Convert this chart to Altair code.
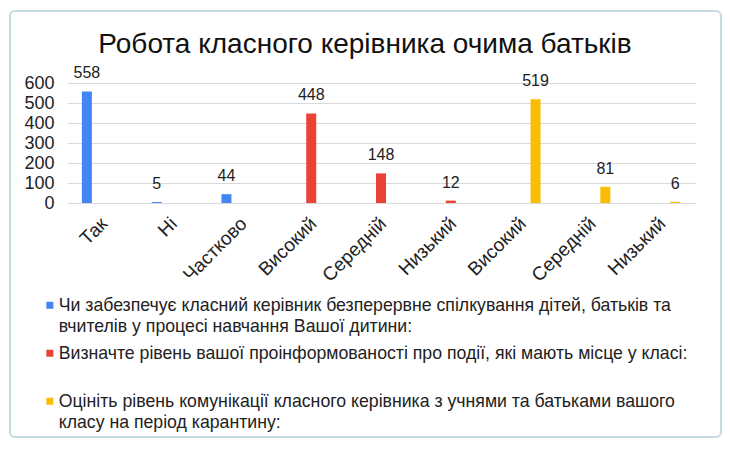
import json
import altair as alt
import pandas as pd

# ---------------- data ----------------
categories = ["Так", "Ні", "Частково", "Високий", "Середній", "Низький",
              "Високий", "Середній", "Низький"]
values = [558, 5, 44, 448, 148, 12, 519, 81, 6]
series_of_bar = [0, 0, 0, 1, 1, 1, 2, 2, 2]
series_names = [
    "Чи забезпечує класний керівник безперервне спілкування дітей, батьків та\nвчителів у процесі навчання  Вашої дитини:",
    "Визначте  рівень вашої проінформованості про події, які мають місце у класі:\n",
    "Оцініть рівень комунікації класного керівника з учнями та батьками вашого\nкласу на  період карантину:",
]
series_colors = ["#4285f4", "#ea4335", "#fbbc04"]
y_ticks = [0, 100, 200, 300, 400, 500, 600]
chart_title = "Робота класного керівника очима батьків"

FONT = "Liberation Sans"
TXT = "#222222"

keys = [str(i) for i in range(len(categories))]
df = pd.DataFrame({
    "key": keys,
    "value": values,
    "series": [series_names[s] for s in series_of_bar],
})

label_expr = json.dumps(categories, ensure_ascii=False) + "[toNumber(datum.value)]"

x_enc = alt.X("key:N", sort=keys,
              scale=alt.Scale(paddingInner=0, paddingOuter=0),
              axis=alt.Axis(title=None, labelExpr=label_expr, labelAngle=315,
                            labelFontSize=19, labelFont=FONT, labelColor=TXT,
                            labelPadding=11, labelOffset=-4, domain=False,
                            ticks=False, grid=False, labelOverlap=False))
xo_enc = alt.XOffset("series:N",
                     scale=alt.Scale(domain=series_names, paddingInner=1 / 3,
                                     paddingOuter=0.9926))
y_enc = alt.Y("value:Q",
              scale=alt.Scale(domain=[0, 600], nice=False),
              axis=alt.Axis(title=None, values=y_ticks, tickCount=7, grid=True,
                            gridColor="#d9d9d9", gridWidth=1, domain=False,
                            ticks=False, labelFontSize=18, labelFont=FONT,
                            labelColor=TXT, labelPadding=13, labelOverlap=False))

bars = alt.Chart(df).mark_bar().encode(
    x=x_enc,
    xOffset=xo_enc,
    y=y_enc,
    color=alt.Color("series:N",
                    scale=alt.Scale(domain=series_names, range=series_colors),
                    legend=alt.Legend(
                        title=None, orient="none", legendX=-26, legendY=205,
                        direction="vertical", columns=1,
                        symbolType="M-1,1.4H1V3.4H-1Z", symbolSize=49,
                        symbolStrokeWidth=0,
                        labelExpr=r"split(datum.label, '\n')",
                        labelFontSize=17.7, labelFont=FONT, labelColor=TXT,
                        labelBaseline="top", labelLimit=800, labelOffset=0,
                        rowPadding=-5, padding=0)),
)

labels = alt.Chart(df).mark_text(baseline="alphabetic", dy=-13, fontSize=16,
                                 font=FONT, color=TXT).encode(
    x=x_enc, xOffset=xo_enc, y=y_enc, text="value:Q")

title_df = pd.DataFrame({"t": [chart_title]})
title = alt.Chart(title_df).mark_text(fontSize=28, font=FONT, color="#111111",
                                      baseline="alphabetic", align="center").encode(
    x=alt.value(298), y=alt.value(-30), text="t:N")

frame_df = pd.DataFrame({"f": [1]})
frame = alt.Chart(frame_df).mark_rect(fill=None, stroke="#c6dbe2", strokeWidth=2,
                                      cornerRadius=5).encode(
    x=alt.value(-57), x2=alt.value(654), y=alt.value(-72), y2=alt.value(354))

chart = alt.layer(frame, bars, labels, title).properties(
    width=628, height=120,
    autosize=alt.AutoSizeParams(type="none"),
    padding={"left": 59, "top": 75, "right": 27, "bottom": 240},
).configure(
    view=alt.ViewConfig(stroke=None),
    style={"guide-label": {"lineHeight": 21}},
)

chart.save("out.html", embed_options={"renderer": "svg", "actions": False})
